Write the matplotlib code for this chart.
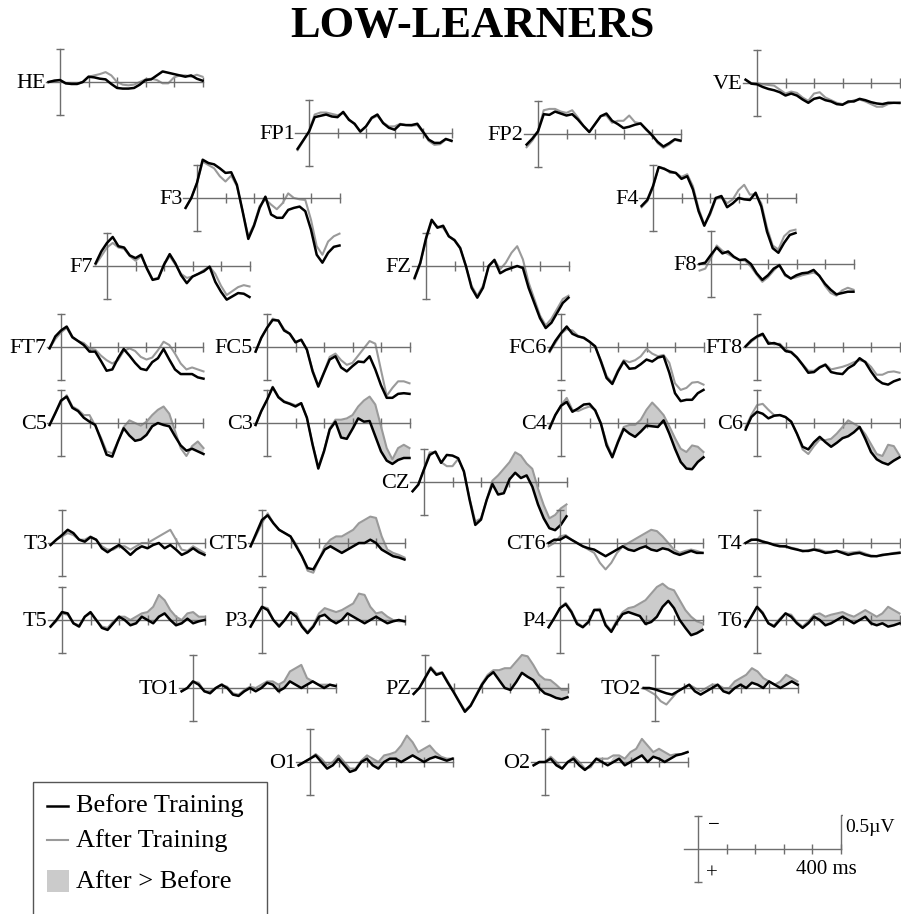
import matplotlib.pyplot as plt
from matplotlib.patches import Rectangle
import numpy as np

W, H = 901, 914
plt.rcParams['font.family'] = ['Liberation Serif', 'DejaVu Serif']

times = np.arange(-40, 501, 20)  # ms

# grand-average amplitudes in microvolts (negative is drawn upward)
he_before = [0, -0.02, -0.03, 0.02, 0.03, 0.03, 0, -0.08, -0.07, -0.05, -0.04, 0.03, 0.09, 0.10, 0.10, 0.09, 0.04, -0.03, -0.04, -0.10, -0.16, -0.14, -0.12, -0.10, -0.08, -0.10, -0.05, -0.02]
he_after = [0, -0.02, -0.03, 0.02, 0.03, 0.03, 0, -0.08, -0.10, -0.12, -0.15, -0.10, 0.0, 0.04, 0.05, 0.04, 0.0, -0.04, -0.05, -0.03, 0.02, 0.02, -0.07, -0.10, -0.10, -0.08, -0.11, -0.08]
ve_before = [-0.05, 0.01, 0.02, 0.06, 0.09, 0.11, 0.14, 0.19, 0.16, 0.19, 0.25, 0.30, 0.24, 0.22, 0.26, 0.28, 0.32, 0.33, 0.28, 0.28, 0.24, 0.26, 0.29, 0.31, 0.32, 0.30, 0.30, 0.30]
ve_after = [-0.05, 0.0, 0.0, 0.02, 0.03, 0.04, 0.10, 0.16, 0.13, 0.15, 0.22, 0.27, 0.16, 0.14, 0.22, 0.26, 0.30, 0.32, 0.30, 0.26, 0.25, 0.28, 0.32, 0.36, 0.36, 0.32, 0.30, 0.31]
fp1_before = [0.24, 0.11, -0.02, -0.24, -0.26, -0.28, -0.25, -0.24, -0.32, -0.20, -0.14, -0.02, -0.10, -0.23, -0.28, -0.15, -0.08, -0.05, -0.13, -0.12, -0.12, -0.14, -0.02, 0.10, 0.15, 0.15, 0.09, 0.12]
fp1_after = [0.26, 0.12, -0.03, -0.28, -0.31, -0.31, -0.29, -0.27, -0.30, -0.21, -0.13, -0.03, -0.10, -0.22, -0.26, -0.16, -0.10, -0.10, -0.14, -0.12, -0.11, -0.12, -0.01, 0.12, 0.18, 0.17, 0.10, 0.11]
fp2_before = [0.16, 0.07, -0.04, -0.30, -0.29, -0.34, -0.31, -0.28, -0.30, -0.22, -0.12, -0.03, -0.15, -0.27, -0.31, -0.20, -0.15, -0.09, -0.11, -0.14, -0.16, -0.07, 0.02, 0.12, 0.19, 0.14, 0.08, 0.10]
fp2_after = [0.20, 0.10, -0.04, -0.36, -0.38, -0.38, -0.34, -0.32, -0.36, -0.25, -0.12, -0.03, -0.15, -0.27, -0.28, -0.17, -0.20, -0.20, -0.28, -0.18, -0.16, -0.06, 0.0, 0.14, 0.21, 0.16, 0.09, 0.11]
f3_before = [0.15, 0.0, -0.23, -0.58, -0.53, -0.51, -0.45, -0.38, -0.39, -0.20, 0.20, 0.62, 0.42, 0.15, -0.02, 0.25, 0.30, 0.30, 0.18, 0.15, 0.13, 0.20, 0.48, 0.86, 0.98, 0.83, 0.74, 0.72]
f3_after = [0.15, 0.0, -0.23, -0.55, -0.50, -0.45, -0.33, -0.25, -0.34, -0.18, 0.20, 0.58, 0.40, 0.12, 0.02, 0.10, 0.17, 0.08, -0.07, 0.0, 0.02, 0.03, 0.33, 0.73, 0.86, 0.66, 0.58, 0.54]
f4_before = [0.12, 0.03, -0.18, -0.47, -0.44, -0.40, -0.38, -0.29, -0.33, -0.13, 0.20, 0.42, 0.23, 0.0, -0.03, 0.14, 0.08, 0.0, 0.02, 0.03, -0.08, 0.13, 0.51, 0.76, 0.83, 0.68, 0.56, 0.53]
f4_after = [0.14, 0.05, -0.16, -0.47, -0.45, -0.38, -0.38, -0.32, -0.36, -0.18, 0.16, 0.40, 0.26, 0.02, -0.02, 0.08, 0.02, -0.12, -0.20, -0.05, -0.06, 0.08, 0.45, 0.72, 0.78, 0.58, 0.50, 0.48]
f7_before = [-0.04, -0.22, -0.35, -0.44, -0.30, -0.28, -0.16, -0.12, -0.17, 0.04, 0.21, 0.19, -0.02, -0.18, -0.04, 0.14, 0.26, 0.16, 0.12, 0.08, 0.01, 0.24, 0.39, 0.51, 0.46, 0.41, 0.42, 0.47]
f7_after = [-0.02, -0.15, -0.28, -0.35, -0.28, -0.26, -0.15, -0.08, -0.15, 0.03, 0.20, 0.18, -0.02, -0.15, -0.02, 0.12, 0.18, 0.16, 0.12, 0.06, 0.01, 0.12, 0.30, 0.44, 0.38, 0.32, 0.29, 0.31]
fz_before = [0.18, -0.05, -0.42, -0.70, -0.58, -0.61, -0.45, -0.39, -0.27, 0.0, 0.33, 0.48, 0.33, 0.0, -0.09, 0.11, 0.06, 0.03, 0.0, 0.03, 0.33, 0.56, 0.79, 0.94, 0.86, 0.71, 0.56, 0.48]
fz_after = [0.20, -0.03, -0.40, -0.68, -0.60, -0.58, -0.45, -0.40, -0.28, 0.0, 0.30, 0.45, 0.30, 0.0, -0.10, 0.05, -0.05, -0.20, -0.30, -0.10, 0.25, 0.50, 0.75, 0.90, 0.80, 0.65, 0.50, 0.45]
f8_before = [0, -0.02, -0.14, -0.25, -0.16, -0.19, -0.11, -0.06, -0.07, 0, 0.14, 0.24, 0.17, 0.07, 0.02, 0.16, 0.22, 0.17, 0.14, 0.13, 0.09, 0.18, 0.30, 0.39, 0.46, 0.44, 0.42, 0.42]
f8_after = [0.10, 0.07, -0.09, -0.28, -0.20, -0.15, -0.10, -0.06, -0.05, 0.04, 0.16, 0.27, 0.20, 0.10, 0.01, 0.18, 0.22, 0.20, 0.17, 0.15, 0.13, 0.17, 0.33, 0.44, 0.48, 0.40, 0.36, 0.39]
ft7_before = [0.02, -0.16, -0.25, -0.31, -0.15, -0.09, -0.03, 0.07, 0.07, 0.21, 0.36, 0.34, 0.17, 0.03, 0.13, 0.24, 0.33, 0.35, 0.23, 0.17, 0.03, 0.19, 0.34, 0.41, 0.41, 0.41, 0.46, 0.48]
ft7_after = [0.02, -0.12, -0.22, -0.29, -0.14, -0.09, -0.06, 0.02, 0.04, 0.13, 0.20, 0.25, 0.20, 0.06, 0.02, 0.06, 0.15, 0.19, 0.16, 0.05, -0.08, -0.03, 0.10, 0.25, 0.34, 0.31, 0.34, 0.37]
fc5_before = [0.07, -0.14, -0.29, -0.41, -0.40, -0.25, -0.20, -0.07, -0.11, 0.04, 0.37, 0.60, 0.39, 0.19, 0.14, 0.31, 0.37, 0.29, 0.22, 0.23, 0.14, 0.34, 0.58, 0.77, 0.77, 0.71, 0.70, 0.71]
fc5_after = [0.07, -0.14, -0.29, -0.43, -0.40, -0.27, -0.20, -0.08, -0.11, 0.04, 0.35, 0.58, 0.38, 0.15, 0.10, 0.20, 0.27, 0.24, 0.13, 0.02, -0.09, -0.05, 0.35, 0.74, 0.62, 0.52, 0.52, 0.55]
fc6_before = [0.06, -0.09, -0.21, -0.31, -0.20, -0.16, -0.14, -0.08, -0.01, 0.22, 0.47, 0.56, 0.37, 0.22, 0.33, 0.32, 0.26, 0.19, 0.22, 0.16, 0.14, 0.39, 0.70, 0.82, 0.80, 0.80, 0.70, 0.65]
fc6_after = [0.08, -0.06, -0.20, -0.27, -0.25, -0.17, -0.13, -0.08, 0.0, 0.20, 0.44, 0.54, 0.35, 0.20, 0.23, 0.20, 0.14, 0.03, 0.10, 0.14, 0.12, 0.24, 0.55, 0.65, 0.62, 0.54, 0.53, 0.57]
ft8_before = [-0.01, -0.10, -0.16, -0.20, -0.05, -0.06, -0.03, 0.06, 0.08, 0.16, 0.27, 0.39, 0.38, 0.31, 0.27, 0.38, 0.40, 0.41, 0.32, 0.27, 0.17, 0.23, 0.37, 0.49, 0.55, 0.57, 0.52, 0.49]
ft8_after = [0.0, -0.08, -0.15, -0.18, -0.08, -0.04, -0.05, 0.04, 0.07, 0.15, 0.26, 0.36, 0.36, 0.30, 0.26, 0.34, 0.32, 0.30, 0.27, 0.23, 0.20, 0.22, 0.30, 0.42, 0.42, 0.38, 0.37, 0.39]
c5_before = [0.03, -0.15, -0.34, -0.40, -0.23, -0.18, -0.08, -0.02, 0.03, 0.25, 0.48, 0.51, 0.28, 0.08, 0.19, 0.27, 0.25, 0.18, 0.05, 0.0, 0.03, 0.05, 0.20, 0.34, 0.42, 0.39, 0.43, 0.47]
c5_after = [0.03, -0.15, -0.32, -0.42, -0.25, -0.20, -0.12, -0.12, 0.04, 0.22, 0.43, 0.46, 0.28, 0.06, -0.04, 0.0, 0.04, -0.02, -0.12, -0.20, -0.25, -0.14, 0.12, 0.38, 0.50, 0.35, 0.28, 0.38]
c3_before = [0.03, -0.18, -0.35, -0.54, -0.39, -0.32, -0.29, -0.25, -0.30, -0.08, 0.33, 0.69, 0.43, 0.10, -0.02, 0.22, 0.24, 0.09, -0.07, -0.02, -0.03, 0.20, 0.43, 0.57, 0.62, 0.56, 0.53, 0.53]
c3_after = [0.03, -0.18, -0.35, -0.55, -0.40, -0.33, -0.30, -0.27, -0.30, -0.08, 0.32, 0.66, 0.42, 0.08, -0.05, -0.05, -0.07, -0.12, -0.25, -0.34, -0.40, -0.28, 0.05, 0.38, 0.55, 0.38, 0.33, 0.38]
c4_before = [0.08, -0.12, -0.26, -0.32, -0.17, -0.22, -0.28, -0.29, -0.19, 0.01, 0.34, 0.52, 0.29, 0.09, 0.16, 0.21, 0.13, 0.04, 0.05, 0.06, -0.04, 0.16, 0.39, 0.59, 0.69, 0.70, 0.59, 0.52]
c4_after = [0.05, -0.12, -0.27, -0.38, -0.20, -0.18, -0.22, -0.25, -0.20, 0.0, 0.30, 0.50, 0.27, 0.06, 0.03, 0.03, -0.05, -0.20, -0.31, -0.22, -0.12, 0.05, 0.23, 0.39, 0.44, 0.34, 0.36, 0.44]
c6_before = [0.10, -0.09, -0.17, -0.14, -0.07, -0.11, -0.12, -0.09, -0.02, 0.16, 0.36, 0.40, 0.29, 0.21, 0.29, 0.36, 0.30, 0.23, 0.20, 0.14, 0.06, 0.24, 0.44, 0.55, 0.60, 0.63, 0.57, 0.52]
c6_after = [0.06, -0.12, -0.27, -0.29, -0.20, -0.12, -0.12, -0.09, -0.02, 0.16, 0.40, 0.47, 0.35, 0.25, 0.26, 0.24, 0.16, 0.06, -0.04, 0.01, 0.06, 0.17, 0.32, 0.47, 0.50, 0.33, 0.35, 0.49]
cz_before = [0.14, 0.04, -0.19, -0.41, -0.46, -0.29, -0.41, -0.40, -0.36, -0.16, 0.27, 0.65, 0.57, 0.27, 0.03, 0.19, 0.17, -0.04, -0.14, -0.06, -0.10, 0.07, 0.34, 0.55, 0.70, 0.73, 0.65, 0.52]
cz_after = [0.14, 0.04, -0.20, -0.45, -0.45, -0.30, -0.24, -0.24, -0.35, -0.16, 0.25, 0.60, 0.55, 0.27, -0.02, -0.10, -0.20, -0.30, -0.45, -0.40, -0.28, -0.20, 0.10, 0.35, 0.55, 0.50, 0.40, 0.34]
t3_before = [0.03, -0.05, -0.12, -0.20, -0.15, -0.05, -0.02, -0.09, -0.05, 0.08, 0.14, 0.08, 0.03, 0.10, 0.18, 0.10, 0.05, 0.08, 0.03, 0.0, 0.08, 0.03, 0.10, 0.18, 0.14, 0.08, 0.14, 0.18]
t3_after = [0.03, -0.05, -0.10, -0.15, -0.12, -0.05, -0.05, -0.10, -0.05, 0.05, 0.10, 0.10, 0.05, 0.05, 0.10, 0.05, 0.0, 0.0, -0.05, -0.10, -0.15, -0.20, -0.05, 0.10, 0.12, 0.05, 0.10, 0.15]
ct5_before = [0.05, -0.15, -0.35, -0.42, -0.30, -0.20, -0.15, -0.10, 0.05, 0.20, 0.38, 0.40, 0.25, 0.10, 0.05, 0.10, 0.15, 0.10, 0.05, 0.0, 0.0, -0.05, 0.0, 0.10, 0.15, 0.20, 0.22, 0.25]
ct5_after = [0.05, -0.12, -0.30, -0.45, -0.30, -0.20, -0.15, -0.10, 0.02, 0.20, 0.42, 0.45, 0.25, 0.05, -0.05, -0.10, -0.10, -0.15, -0.20, -0.30, -0.35, -0.40, -0.38, -0.10, 0.10, 0.15, 0.18, 0.22]
ct6_before = [0.0, -0.05, -0.05, -0.10, -0.05, 0.0, 0.05, 0.08, 0.10, 0.15, 0.20, 0.15, 0.10, 0.05, 0.10, 0.12, 0.08, 0.05, 0.10, 0.12, 0.08, 0.10, 0.15, 0.18, 0.15, 0.12, 0.15, 0.15]
ct6_after = [0.05, 0.0, -0.10, -0.12, -0.05, 0.0, 0.05, 0.10, 0.15, 0.30, 0.40, 0.30, 0.15, 0.05, 0.0, -0.05, -0.10, -0.15, -0.20, -0.18, -0.10, 0.0, 0.10, 0.15, 0.12, 0.10, 0.12, 0.15]
t4_before = [0.0, -0.05, -0.05, -0.02, 0.0, 0.03, 0.05, 0.05, 0.08, 0.10, 0.12, 0.12, 0.10, 0.12, 0.15, 0.14, 0.12, 0.15, 0.18, 0.16, 0.15, 0.18, 0.20, 0.20, 0.18, 0.17, 0.16, 0.15]
t4_after = [0.0, -0.04, -0.06, -0.03, 0.0, 0.02, 0.04, 0.06, 0.07, 0.09, 0.13, 0.11, 0.09, 0.10, 0.13, 0.13, 0.12, 0.13, 0.15, 0.14, 0.13, 0.16, 0.19, 0.20, 0.19, 0.17, 0.15, 0.14]
t5_before = [0.10, 0.0, -0.12, -0.10, 0.05, 0.10, -0.05, -0.12, 0.0, 0.12, 0.15, 0.05, -0.05, 0.0, 0.08, 0.05, -0.05, 0.0, 0.05, -0.05, -0.10, 0.0, 0.08, 0.05, -0.02, 0.05, 0.02, 0.0]
t5_after = [0.10, 0.02, -0.10, -0.08, 0.05, 0.08, -0.05, -0.10, 0.0, 0.10, 0.12, 0.02, -0.05, -0.05, 0.0, -0.05, -0.10, -0.12, -0.20, -0.38, -0.30, -0.15, -0.05, 0.0, -0.10, -0.12, -0.05, -0.05]
p3_before = [0.10, -0.05, -0.20, -0.15, 0.0, 0.10, 0.0, -0.12, -0.05, 0.10, 0.20, 0.10, -0.05, -0.08, 0.0, 0.05, 0.0, -0.10, -0.05, 0.0, 0.05, 0.0, -0.05, 0.0, 0.05, 0.02, 0.0, 0.02]
p3_after = [0.10, -0.05, -0.20, -0.18, 0.0, 0.08, 0.0, -0.12, -0.10, 0.08, 0.18, 0.08, -0.10, -0.18, -0.15, -0.12, -0.15, -0.20, -0.25, -0.40, -0.38, -0.20, -0.10, -0.12, -0.05, 0.0, 0.02, 0.02]
p4_before = [0.11, -0.03, -0.18, -0.24, -0.12, 0.06, 0.11, 0.03, -0.15, -0.15, 0.08, 0.18, 0.03, -0.09, -0.12, -0.09, -0.06, 0.06, 0.03, -0.05, -0.20, -0.29, -0.18, 0.0, 0.12, 0.23, 0.20, 0.15]
p4_after = [0.11, -0.03, -0.18, -0.26, -0.14, 0.04, 0.10, 0.02, -0.16, -0.17, 0.06, 0.16, 0.0, -0.12, -0.18, -0.20, -0.25, -0.30, -0.40, -0.50, -0.55, -0.48, -0.45, -0.30, -0.15, -0.05, 0.02, 0.05]
t6_before = [0.10, -0.05, -0.20, -0.10, 0.05, 0.10, 0.0, -0.10, -0.05, 0.05, 0.12, 0.05, -0.05, 0.0, 0.08, 0.05, 0.0, -0.05, 0.0, 0.05, 0.0, -0.05, 0.05, 0.08, 0.05, 0.10, 0.08, 0.05]
t6_after = [0.10, -0.05, -0.20, -0.12, 0.05, 0.08, -0.02, -0.10, -0.08, 0.03, 0.10, 0.02, -0.08, -0.10, -0.05, -0.08, -0.10, -0.12, -0.08, -0.05, -0.10, -0.15, -0.10, -0.05, -0.10, -0.20, -0.15, -0.10]
to1_before = [0.05, 0.0, -0.10, -0.05, 0.05, 0.08, 0.0, -0.05, 0.0, 0.10, 0.12, 0.05, 0.0, 0.05, 0.0, -0.08, -0.05, 0.05, 0.0, -0.10, -0.05, 0.0, -0.05, -0.10, -0.05, 0.0, -0.05, -0.03]
to1_after = [0.05, 0.0, -0.10, -0.08, 0.05, 0.05, 0.0, -0.05, -0.02, 0.08, 0.10, 0.03, -0.02, 0.0, -0.05, -0.10, -0.10, -0.05, -0.10, -0.25, -0.30, -0.35, -0.15, -0.10, -0.05, -0.05, -0.05, -0.03]
pz_before = [0.09, 0.0, -0.15, -0.30, -0.20, -0.23, -0.08, 0.06, 0.21, 0.36, 0.27, 0.11, -0.05, -0.17, -0.24, -0.12, 0.0, 0.03, -0.09, -0.23, -0.17, -0.12, 0.0, 0.08, 0.11, 0.15, 0.17, 0.14]
pz_after = [0.09, 0.0, -0.16, -0.32, -0.22, -0.24, -0.10, 0.05, 0.20, 0.34, 0.26, 0.10, -0.07, -0.20, -0.27, -0.27, -0.30, -0.30, -0.40, -0.50, -0.48, -0.35, -0.20, -0.13, -0.12, -0.05, 0.03, 0.03]
to2_before = [0.0, 0.0, 0.02, 0.05, 0.08, 0.10, 0.05, 0.0, -0.05, 0.05, 0.10, 0.05, 0.0, -0.05, 0.05, 0.08, 0.0, -0.05, 0.0, -0.08, -0.05, 0.0, -0.10, -0.05, 0.0, -0.05, -0.10, -0.05]
to2_after = [0.0, 0.05, 0.10, 0.20, 0.25, 0.15, 0.05, 0.0, -0.05, 0.0, 0.05, 0.0, -0.05, -0.05, 0.0, 0.0, -0.10, -0.15, -0.20, -0.30, -0.25, -0.15, -0.10, -0.05, -0.10, -0.20, -0.15, -0.10]
o1_before = [0.05, 0.0, -0.05, -0.10, 0.0, 0.10, 0.05, -0.05, 0.05, 0.15, 0.12, 0.0, -0.05, 0.05, 0.10, 0.0, -0.05, -0.05, 0.0, -0.05, -0.10, -0.05, 0.0, -0.05, -0.08, -0.05, -0.02, -0.05]
o1_after = [0.05, 0.0, -0.05, -0.12, -0.05, 0.05, 0.0, -0.10, 0.0, 0.10, 0.10, -0.02, -0.10, -0.05, 0.0, -0.10, -0.12, -0.15, -0.25, -0.40, -0.30, -0.15, -0.20, -0.25, -0.15, -0.08, -0.05, -0.05]
o2_before = [0.05, 0.0, 0.0, -0.05, 0.05, 0.10, 0.0, -0.05, 0.05, 0.12, 0.05, -0.05, 0.0, 0.05, 0.0, -0.05, 0.05, 0.0, -0.05, -0.10, 0.0, -0.08, -0.05, 0.0, -0.05, -0.10, -0.12, -0.15]
o2_after = [0.05, 0.0, 0.0, -0.08, 0.0, 0.10, 0.0, -0.08, 0.0, 0.10, 0.08, -0.05, -0.05, -0.05, -0.10, -0.10, -0.05, -0.15, -0.20, -0.35, -0.25, -0.15, -0.20, -0.15, -0.10, -0.12, -0.12, -0.15]

# windows (ms) where After > Before is shaded
fill_spans = {
    'C5': (220, 500), 'C3': (240, 500), 'C4': (220, 500), 'C6': (260, 500),
    'CZ': (240, 500), 'CT5': (220, 480), 'CT6': (240, 420), 'T5': (200, 500),
    'P3': (200, 480), 'P4': (200, 500), 'T6': (220, 500), 'TO1': (240, 460),
    'PZ': (220, 500), 'TO2': (240, 500), 'O1': (220, 500), 'O2': (240, 500),
}

channels = [
    ('HE', he_before, he_after), ('VE', ve_before, ve_after),
    ('FP1', fp1_before, fp1_after), ('FP2', fp2_before, fp2_after),
    ('F3', f3_before, f3_after), ('F4', f4_before, f4_after),
    ('F7', f7_before, f7_after), ('FZ', fz_before, fz_after), ('F8', f8_before, f8_after),
    ('FT7', ft7_before, ft7_after), ('FC5', fc5_before, fc5_after),
    ('FC6', fc6_before, fc6_after), ('FT8', ft8_before, ft8_after),
    ('C5', c5_before, c5_after), ('C3', c3_before, c3_after),
    ('C4', c4_before, c4_after), ('C6', c6_before, c6_after),
    ('CZ', cz_before, cz_after),
    ('T3', t3_before, t3_after), ('CT5', ct5_before, ct5_after),
    ('CT6', ct6_before, ct6_after), ('T4', t4_before, t4_after),
    ('T5', t5_before, t5_after), ('P3', p3_before, p3_after),
    ('P4', p4_before, p4_after), ('T6', t6_before, t6_after),
    ('TO1', to1_before, to1_after), ('PZ', pz_before, pz_after), ('TO2', to2_before, to2_after),
    ('O1', o1_before, o1_after), ('O2', o2_before, o2_after),
]

# axis origin (t=0, 0 uV) of every channel, pixels from top-left
origins = {
    'HE': (60, 82), 'VE': (757, 83), 'FP1': (309, 133), 'FP2': (538, 134),
    'F3': (197, 198), 'F4': (653, 198), 'F7': (107, 266), 'FZ': (426, 266),
    'F8': (711, 264), 'FT7': (61, 347), 'FC5': (267, 347), 'FC6': (561, 347),
    'FT8': (757, 347), 'C5': (61, 423), 'C3': (267, 423), 'C4': (561, 423),
    'C6': (757, 423), 'CZ': (424, 482), 'T3': (62, 543), 'CT5': (262, 543),
    'CT6': (560, 543), 'T4': (757, 543), 'T5': (62, 620), 'P3': (262, 620),
    'P4': (560, 620), 'T6': (757, 620), 'TO1': (193, 688), 'PZ': (425, 688),
    'TO2': (655, 688), 'O1': (310, 762), 'O2': (545, 762),
}
scale_origin = (698, 849)

PX_PER_MS = 0.285
PX_PER_UV = 66.0
T_MIN, T_MAX = -60, 510
V_LIM = 1.3
AXIS_COLOR = '#6e6e6e'
AFTER_COLOR = '#9a9a9a'
FILL_COLOR = '#cbcbcb'


def channel_axes(fig, x0, y0):
    left = (x0 + T_MIN * PX_PER_MS) / W
    width = (T_MAX - T_MIN) * PX_PER_MS / W
    bottom = 1 - (y0 + V_LIM * PX_PER_UV) / H
    height = 2 * V_LIM * PX_PER_UV / H
    ax = fig.add_axes([left, bottom, width, height])
    ax.set_xlim(T_MIN, T_MAX)
    ax.set_ylim(V_LIM, -V_LIM)
    ax.patch.set_visible(False)
    ax.spines['top'].set_visible(False)
    ax.spines['right'].set_visible(False)
    ax.spines['left'].set_position(('data', 0))
    ax.spines['bottom'].set_position(('data', 0))
    ax.spines['left'].set_bounds(-0.5, 0.5)
    ax.spines['bottom'].set_bounds(-50, 500)
    for side in ('left', 'bottom'):
        ax.spines[side].set_color(AXIS_COLOR)
        ax.spines[side].set_linewidth(1.0)
    ax.set_xticks([100, 200, 300, 400, 500])
    ax.set_yticks([-0.5, 0.5])
    ax.tick_params(axis='x', direction='inout', length=7, width=1.0, color=AXIS_COLOR, labelbottom=False)
    ax.tick_params(axis='y', direction='inout', length=6, width=1.0, color=AXIS_COLOR, labelleft=False)
    return ax


fig = plt.figure(figsize=(W / 100, H / 100), dpi=100)

for name, before, after in channels:
    x0, y0 = origins[name]
    ax = channel_axes(fig, x0, y0)
    before = np.array(before)
    after = np.array(after)
    if name in fill_spans:
        lo, hi = fill_spans[name]
        mask = (after < before) & (times >= lo) & (times <= hi)
        ax.fill_between(times, before, after, where=mask, interpolate=True,
                        color=FILL_COLOR, lw=0, zorder=1)
    ax.plot(times, after, color=AFTER_COLOR, lw=1.5, zorder=2, clip_on=False)
    ax.plot(times, before, color='black', lw=1.8, zorder=3, clip_on=False)
    ax.text(-50, 0.02, name, ha='right', va='center', fontsize=16)

# calibration cross
ax = channel_axes(fig, *scale_origin)
ax.plot([500, 500, 512], [0, -0.52, -0.52], color=AXIS_COLOR, lw=1.0)
ax.text(515, -0.32, '0.5\u00b5V', ha='left', va='center', fontsize=14)
ax.text(450, 0.16, '400 ms', ha='center', va='top', fontsize=15)
ax.text(55, -0.36, '\u2212', ha='center', va='center', fontsize=15)
ax.text(50, 0.38, '+', ha='center', va='center', fontsize=15)

# title and legend in pixel coordinates
ov = fig.add_axes([0, 0, 1, 1], zorder=-1)
ov.set_xlim(0, W)
ov.set_ylim(H, 0)
ov.axis('off')
ov.text(472, 26, 'LOW-LEARNERS', ha='center', va='center', fontsize=32, fontweight='bold')
ov.add_patch(Rectangle((33, 782), 234, 140, fill=False, ec='#555555', lw=1.0))
ov.plot([47, 68], [806, 806], color='black', lw=1.8)
ov.plot([47, 68], [840, 840], color=AFTER_COLOR, lw=1.5)
ov.add_patch(Rectangle((47, 870), 22, 22, fc=FILL_COLOR, ec='none'))
ov.text(76, 806, 'Before Training', ha='left', va='center', fontsize=19)
ov.text(76, 841, 'After Training', ha='left', va='center', fontsize=19)
ov.text(76, 882, 'After > Before', ha='left', va='center', fontsize=19)

fig.savefig('out.png', dpi=100)
